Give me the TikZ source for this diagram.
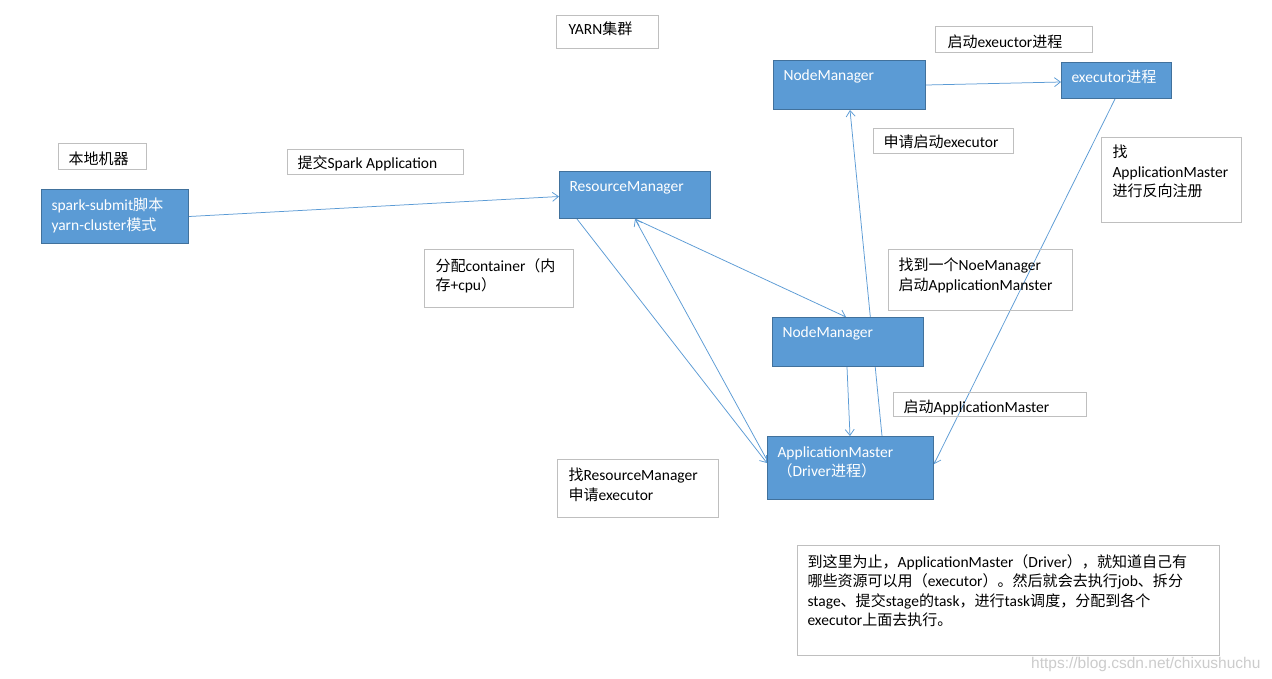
\documentclass[tikz,border=0pt]{standalone}
\usepackage{fontspec}
\setmainfont{Carlito}
\newfontfamily\cjk[Scale=0.97]{Noto Sans CJK SC}
\newfontfamily\webfont{Liberation Sans}
\usepackage{tikz}
\usetikzlibrary{calc,arrows.meta,backgrounds}

\definecolor{boxfill}{HTML}{5B9BD5}
\definecolor{boxedge}{HTML}{41719C}
\definecolor{linkblue}{HTML}{5B9BD5}
\definecolor{noteedge}{HTML}{BFBFBF}

% chinese runs
\newcommand{\zh}[1]{{\cjk #1}}
% text block: inner width, height, first baseline, text
\newcommand{\cell}[4]{\parbox[c][#2pt][t]{#1pt}{\raggedright\baselineskip=19.5pt\rule{0pt}{#3pt}#4\par}}

\begin{document}
\begin{tikzpicture}[x=1pt,y=-1pt,
  font=\fontsize{15.5}{19.5}\selectfont,
  blue box/.style={draw=boxedge, line width=1pt, fill=boxfill, text=white, anchor=north west, inner xsep=10pt, inner ysep=0pt},
  note/.style={draw=noteedge, line width=1pt, anchor=north west, inner xsep=10pt, inner ysep=0pt},
  link/.style={draw=linkblue, line width=0.75pt, -{Straight Barb[length=6pt,width=9pt]}}]
\useasboundingbox (0,0) rectangle (1272,678);

% blue boxes
\node[blue box] (submit) at (41,189) {\cell{127}{54}{21}{spark-submit\zh{脚本}\\yarn-cluster\zh{模式}}};
\node[blue box] (rm) at (559,171) {\cell{131}{47}{20}{ResourceManager}};
\node[blue box] (nmA) at (773,60) {\cell{132}{49}{20}{NodeManager}};
\node[blue box] (exec) at (1061,62) {\cell{90}{36}{20}{executor\zh{进程}}};
\node[blue box] (nmB) at (772,317) {\cell{131}{49}{20}{NodeManager}};
\node[blue box] (am) at (767,436) {\cell{146}{63}{20.5}{ApplicationMaster\\\zh{（}Driver\zh{进程）}}};

% notes
\node[note, inner xsep=12pt] (yarn) at (556,15) {\cell{78}{33}{19}{YARN\zh{集群}}};
\node[note] (local) at (58,143) {\cell{68}{26}{21}{\zh{本地机器}}};
\node[note] (sublbl) at (287,149) {\cell{156}{25}{19}{\zh{提交}Spark Application}};
\node[note, inner xsep=12pt] (startexec) at (935,26) {\cell{133}{26}{20.5}{\zh{启动}exeuctor\zh{进程}}};
\node[note] (reqexec) at (873,128) {\cell{120}{25}{19}{\zh{申请启动}executor}};
\node[note, inner xsep=11pt] (register) at (1101,137) {\cell{118}{85}{20}{\zh{找}\\ApplicationMaster\\\zh{进行反向注册}}};
\node[note] (findnm) at (888,249) {\cell{164}{61}{21}{\zh{找到一个}NoeManager\\\zh{启动}ApplicationManster}};
\node[note] (startam) at (893,392) {\cell{173}{24}{20}{\zh{启动}ApplicationMaster}};
\node[note, inner xsep=11pt] (alloc) at (424,249) {\cell{127}{58}{21.5}{\zh{分配}container\zh{（内}\\\zh{存}+cpu\zh{）}}};
\node[note, inner xsep=11pt] (findrm) at (557,459) {\cell{139}{58}{21}{\zh{找}ResourceManager\\\zh{申请}executor}};
\node[note] (summary) at (797,545) {\cell{402}{110}{21.5}{\zh{到这里为止，}ApplicationMaster\zh{（}Driver\zh{），就知道自己有}\\
\zh{哪些资源可以用（}executor\zh{）。然后就会去执行}job\zh{、拆分}\\
stage\zh{、提交}stage\zh{的}task\zh{，进行}task\zh{调度，分配到各个}\\
executor\zh{上面去执行。}}};

\node[anchor=base west, inner sep=0pt, text=gray!40, font=\webfont\fontsize{15.5}{18}\selectfont] (mark) at (1031,668) {https://blog.csdn.net/chixushuchu};

% connectors behind the boxes
\begin{pgfonlayer}{background}
\fill[white] (0,0) rectangle (1272,678);
\draw[link] (submit.east) -- ($(rm.west)+(0,1.5)$);
\draw[link] ($(rm.south west)+(18,0)$) -- ($(am.north west)+(0,27)$);
\draw[link] ($(am.north west)+(0,24)$) -- ($(rm.south west)+(76,0)$);
\draw[link, {Straight Barb[length=6pt,width=9pt]}-{Straight Barb[length=6pt,width=9pt]}] ($(rm.south west)+(76,0)$) -- ($(nmB.north west)+(74,0)$);
\draw[link] ($(nmB.south west)+(75,0)$) -- ($(am.north west)+(83,0)$);
\draw[link] ($(am.north west)+(115,0)$) -- ($(nmA.south west)+(77,0)$);
\draw[link] (nmA.east) -- ($(exec.west)+(0,1.5)$);
\draw[link] ($(exec.south west)+(54,0)$) -- ($(am.north east)+(0,28)$);
\end{pgfonlayer}
\end{tikzpicture}
\end{document}
